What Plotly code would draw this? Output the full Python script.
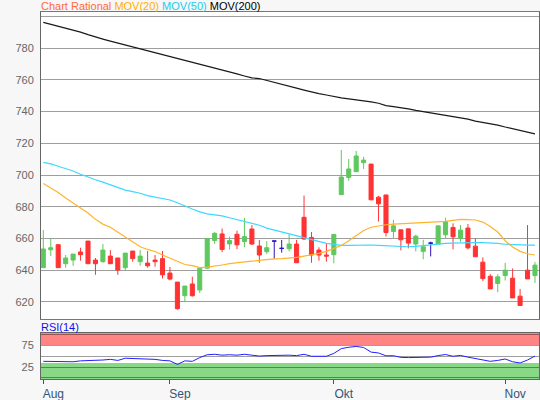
import plotly.graph_objects as go

# ---- data (trading-day index 0..66) ----
opens = [641.5, 652.8, 656, 644, 646.3, 651.4, 658.3, 646.3, 645.3, 648.8,
         647.6, 641.5, 652, 645.3, 644.4, 646.3, 647.2, 638.1, 632.4, 623.8,
         631.2, 627.4, 641.2, 658.6, 662.8, 656.5, 662.6, 658, 665.9, 655.2,
         651.6, 658.3, 653.7, 653.5, 656.4, 673.3, 660.6, 652.6, 649.5, 649.7,
         687.6, 698.5, 702.1, 707.8, 706.9, 686, 687.4, 664.4, 665.4, 666,
         656.4, 651.8, 657, 656.4, 662.3, 666.9, 660, 666.5, 655.1, 645,
         636.1, 631.5, 636.5, 634.9, 623.5, 639.9, 636.5]
highs = [665.3, 660, 656.4, 649.5, 650.1, 654.1, 658.3, 647.6, 656.4, 652.6,
         647.6, 650.7, 652, 652.6, 652, 649.5, 652, 641.9, 632.4, 629.9,
         635.8, 641.2, 659.7, 663.9, 666.2, 661.1, 664.9, 672.9, 668.4, 659,
         658.3, 658.3, 659, 662.5, 659, 687, 664, 654.3, 656.4, 662.5,
         715.8, 710.1, 715.2, 711.5, 706.9, 686.8, 687.4, 671.7, 665.4, 666,
         662.3, 659.1, 657.9, 667.9, 673, 669.5, 668.4, 669, 660, 648,
         637.4, 637.4, 644.6, 641, 628.1, 668.4, 645]
lows = [641.5, 648.8, 641.5, 641.5, 642.7, 645.9, 644, 637, 644.6, 644,
        637, 639.6, 645.3, 642.7, 641.5, 642.1, 634.7, 633.5, 615, 620.2,
        623.2, 625.5, 640.6, 656.5, 651.3, 653, 653.2, 654.4, 655.8, 644.6,
        650.1, 647, 651, 651.8, 644.6, 659, 644.6, 645.9, 645.3, 644.2,
        687.6, 696.4, 702.1, 703.8, 684.3, 670.6, 661.2, 660.2, 652.4, 653.7,
        651.8, 646.8, 648.6, 656.4, 659.7, 653, 657.8, 653, 648.4, 633.2,
        628.1, 626, 633.4, 622.4, 617.6, 634.4, 631.9]
closes = [653.3, 654.1, 641.5, 647.6, 650.1, 649.7, 644, 644, 652.6, 644,
          640, 650.7, 647.2, 648.8, 642.7, 645.3, 637, 634.3, 615.6, 629.9,
          623.8, 641.2, 659.7, 663.2, 653, 658.6, 655.9, 661.1, 656.4, 649.5,
          654.1, 658.3, 653.7, 656.4, 644.6, 659.6, 649.5, 649.5, 648.8, 662.5,
          698.7, 703.8, 712, 709.4, 684.3, 681.8, 663.7, 667.9, 659.1, 657,
          661.4, 654.7, 657, 667.9, 670.6, 661, 665.2, 654, 648.4, 634.6,
          628.1, 635.7, 639.9, 622.4, 617.6, 634.4, 643.1]

mov20 = [694.7, 692, 689, 685.5, 682.5, 679.2, 676, 672, 669, 667,
         664, 660.5, 658, 654.7, 653, 651.7, 649.5, 647.5, 645, 643.5,
         642.8, 641.5, 641.8, 642.3, 643.2, 644, 644.7, 645.1, 645.6, 646.2,
         646.8, 647, 647.2, 647.4, 648, 648.8, 649.5, 650.5, 651.8, 653.5,
         655.5, 658.5, 662, 665, 667, 668, 668.6, 669, 669.2, 669.3,
         669.5, 669.7, 670, 670.4, 670.7, 671.3, 672, 671.8, 671.6, 670.3,
         667.5, 664, 658.5, 654.5, 651.8, 650.3, 649.5]
mov50 = [708, 707, 705.5, 704, 702.5, 700.5, 698.5, 697, 695.5, 694,
         692, 690.5, 689.5, 688.5, 687, 686, 685.3, 684.2, 682.5, 680.3,
         678.5, 676.7, 675.5, 674.8, 674.2, 673, 671.8, 670.7, 669.5, 668.3,
         666.5, 665.3, 664, 663, 661.5, 660.2, 659.3, 658, 656.8, 656.2,
         655.6, 655.6, 655.7, 656, 655.8, 655.6, 655.3, 655, 654.9, 654.7,
         655, 655.5, 656, 656.5, 656.8, 657, 657.2, 657.4, 657.3, 657.3,
         657.2, 656.8, 656.3, 656, 655.8, 655.7, 655.7]
mov200 = [796.4, 795.2, 794, 792.7, 791.4, 790.2, 788.6, 787, 785.8, 784.5,
          783.3, 782, 780.8, 779.8, 778.6, 777.3, 776, 774.8, 773.5, 772.3,
          771, 769.8, 768.6, 767.5, 766.3, 765, 763.8, 762.5, 761.3, 760.9,
          759.6, 758.4, 757.2, 756, 754.8, 753.6, 752.4, 751.4, 750.5, 749.5,
          748.7, 748.1, 747.5, 747, 746.2, 745.3, 743.8, 743.2, 742.6, 741.8,
          740.8, 740, 739, 738.1, 737.3, 736.8, 735.9, 735.3, 734, 733.2,
          732.4, 731.5, 730.3, 729.2, 728.2, 727.1, 726]
rsi = [38, 37.5, 36.5, 36, 37, 39, 39.5, 39, 41, 42.5,
       40, 45, 44.5, 44, 43.5, 42.5, 40, 39, 31, 39,
       38, 46.5, 53, 54, 52, 53, 52, 54, 52, 50,
       51, 51.5, 51, 52, 51, 54, 49.5, 49.5, 49.5, 56,
       67, 70, 72, 69.5, 59, 57, 50.5, 50.8, 47, 46.5,
       46.5, 46.5, 47.5, 51, 53.5, 49.5, 51.5, 47.5, 44, 41.5,
       38, 40, 43.3, 37, 34.2, 41, 50]

month_pos = [0, 17, 39, 62]
month_labels = ["Aug", "Sep", "Okt", "Nov"]
price_ticks = [620, 640, 660, 680, 700, 720, 740, 760, 780, 800]
price_labels = ["620", "640", "660", "680", "700", "720", "740", "760", "780", ""]
rsi_ticks = [0, 25, 50, 75, 100]
rsi_labels = ["", "25", "", "75", ""]

idx = list(range(len(opens)))

GREEN = "#5EC85E"
RED = "#FF3333"
DOJI = "#3010C0"
FONT = "Liberation Sans, Arial, sans-serif"

fig = go.Figure()


def add_candles(sel, color):
    fig.add_trace(go.Candlestick(
        x=[idx[i] for i in sel],
        open=[opens[i] for i in sel], high=[highs[i] for i in sel],
        low=[lows[i] for i in sel], close=[closes[i] for i in sel],
        increasing=dict(line=dict(color=color, width=1), fillcolor=color),
        decreasing=dict(line=dict(color=color, width=1), fillcolor=color),
        whiskerwidth=0, showlegend=False, hoverinfo="skip",
        xaxis="x", yaxis="y"))


up = [i for i in idx if closes[i] > opens[i]]
down = [i for i in idx if closes[i] < opens[i]]
flat = [i for i in idx if closes[i] == opens[i]]
add_candles(up, GREEN)
add_candles(down, RED)
add_candles(flat, DOJI)

fig.add_trace(go.Scatter(x=idx, y=mov200, mode="lines",
                         line=dict(color="#1a1a1a", width=1.2),
                         showlegend=False, hoverinfo="skip", xaxis="x", yaxis="y"))
fig.add_trace(go.Scatter(x=idx, y=mov50, mode="lines",
                         line=dict(color="#3DD8FF", width=1.2),
                         showlegend=False, hoverinfo="skip", xaxis="x", yaxis="y"))
fig.add_trace(go.Scatter(x=idx, y=mov20, mode="lines",
                         line=dict(color="#FFB42A", width=1.2),
                         showlegend=False, hoverinfo="skip", xaxis="x", yaxis="y"))
fig.add_trace(go.Scatter(x=idx, y=rsi, mode="lines",
                         line=dict(color="#2020FF", width=1),
                         showlegend=False, hoverinfo="skip", xaxis="x2", yaxis="y2"))

XR = [-0.31, 66.54]
GRID = "rgba(0,0,0,0.38)"

fig.update_layout(
    width=540, height=400,
    margin=dict(l=41, r=1, t=12, b=21),
    paper_bgcolor="#F7F7F7", plot_bgcolor="#FFFFFF",
    font=dict(family=FONT, size=11, color="#666666"),
    boxgap=0.22,
    xaxis=dict(domain=[0, 1], range=XR, anchor="y", showgrid=False,
               showticklabels=False, ticks="", zeroline=False, automargin=False,
               showline=True, mirror=True, linecolor="#777777", linewidth=1,
               rangeslider=dict(visible=False)),
    yaxis=dict(domain=[0.1635, 1], range=[609.1, 802.9], anchor="x",
               tickvals=price_ticks, ticktext=price_labels, automargin=False,
               showgrid=True, gridcolor=GRID, gridwidth=1, zeroline=False,
               ticks="outside", ticklen=4, tickcolor="rgba(0,0,0,0)",
               showline=True, mirror=True, linecolor="#666666", linewidth=1,
               tickfont=dict(size=11, color="#666666")),
    xaxis2=dict(domain=[0, 1], range=XR, anchor="y2", showgrid=False,
                tickvals=month_pos, ticktext=month_labels, automargin=False,
                ticks="outside", ticklen=4, tickcolor="#335577",
                ticklabelshift=10, ticklabelstandoff=0,
                tickfont=dict(size=12, color="#335577"), zeroline=False,
                showline=True, mirror=True, linecolor="#666666", linewidth=1),
    yaxis2=dict(domain=[0, 0.1253], range=[-2.3, 102.5], anchor="x2",
                tickvals=rsi_ticks, ticktext=rsi_labels, automargin=False,
                showgrid=True, gridcolor=GRID, gridwidth=1, zeroline=False,
                ticks="outside", ticklen=4, tickcolor="rgba(0,0,0,0)",
                showline=True, mirror=True, linecolor="#666666", linewidth=1,
                tickfont=dict(size=11, color="#666666")),
    shapes=[
        dict(type="rect", xref="x2 domain", yref="y2", x0=0, x1=1, y0=75, y1=102.5,
             fillcolor="#FF8585", line=dict(width=0), layer="below"),
        dict(type="rect", xref="x2 domain", yref="y2", x0=0, x1=1, y0=-2.3, y1=34,
             fillcolor="#88D888", line=dict(width=0), layer="below"),
    ],
    annotations=[
        dict(xref="paper", yref="paper", x=0, y=1, xanchor="left", yanchor="bottom",
             yshift=-2, xshift=-2, showarrow=False, font=dict(size=11, family=FONT),
             text="<span style='color:#FF6A3D'>Chart Rational</span> "
                  "<span style='color:#FFB000'>MOV(20)</span> "
                  "<span style='color:#22CCEE'>MOV(50)</span> "
                  "<span style='color:#000000'>MOV(200)</span>"),
        dict(xref="paper", yref="paper", x=0, y=0.1253, xanchor="left", yanchor="bottom",
             yshift=-2, xshift=-2, showarrow=False,
             font=dict(size=11, family=FONT, color="#1010EE"), text="RSI(14)"),
    ],
)

fig.write_html("out.html",
               config={"displayModeBar": False},
               post_script="document.body.style.margin='0';document.body.style.padding='0';"
                           "document.body.style.background='#F7F7F7';")
